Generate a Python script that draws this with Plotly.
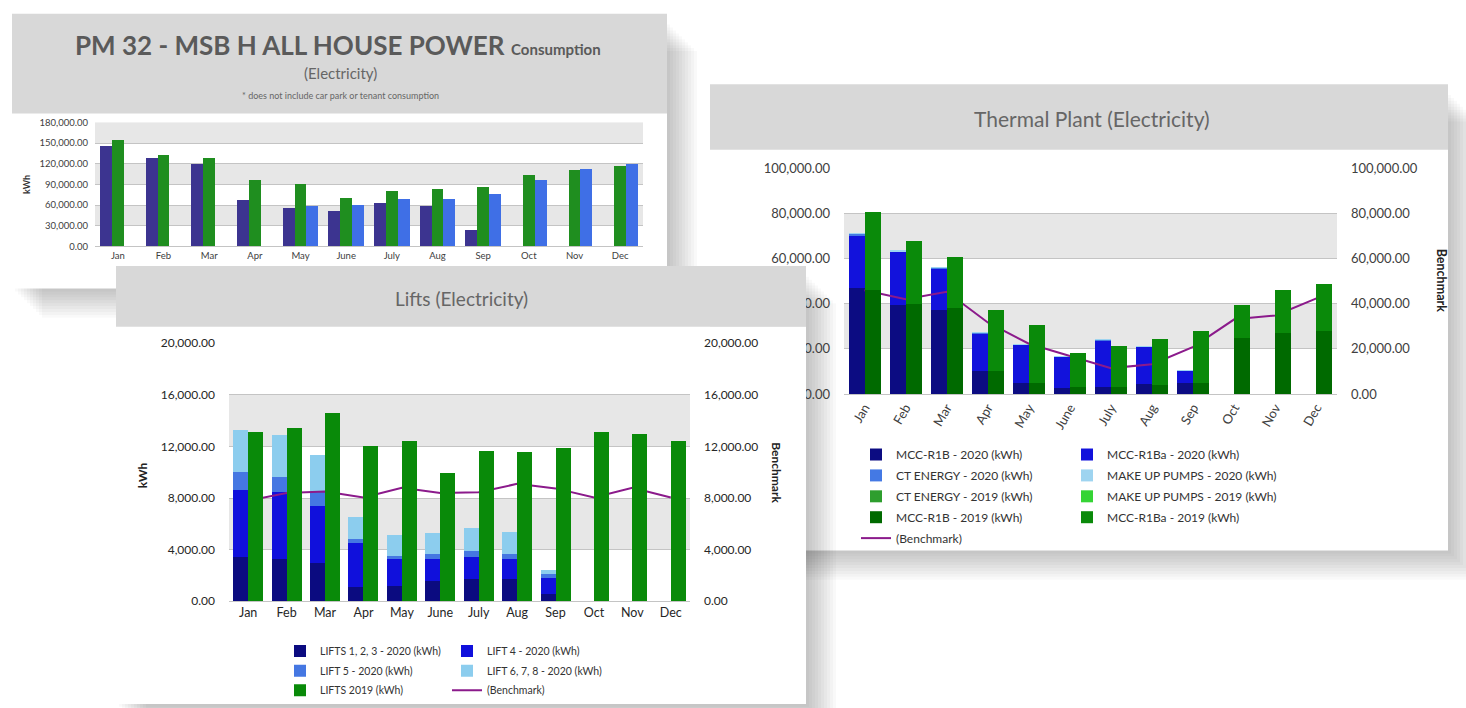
import plotly.graph_objects as go

W, H = 1466, 708

months = ["Jan", "Feb", "Mar", "Apr", "May", "June", "July", "Aug", "Sep", "Oct", "Nov", "Dec"]

# ---------- PM 32 - MSB H ALL HOUSE POWER Consumption (kWh) ----------
house_purple = [145000, 129000, 120000, 67000, 56500, 52000, 63000, 58500, 24000, None, None, None]
house_green = [155000, 132000, 128000, 97000, 90000, 70000, 80000, 84000, 86000, 104000, 111000, 116000]
house_blue = [None, None, None, None, 59000, 60000, 69000, 69000, 76500, 97000, 112000, 120000]

# ---------- Lifts (kWh) ----------
lifts_123_2020 = [3400, 3300, 3000, 1100, 1200, 1600, 1750, 1700, 600, None, None, None]
lift_4_2020 = [5200, 5150, 4400, 3400, 2070, 1670, 1700, 1570, 1200, None, None, None]
lift_5_2020 = [1400, 1150, 1100, 360, 260, 380, 450, 430, 300, None, None, None]
lifts_678_2020 = [3250, 3300, 2850, 1690, 1580, 1640, 1770, 1670, 350, None, None, None]
lifts_2019 = [13150, 13400, 14600, 12000, 12450, 9950, 11650, 11600, 11900, 13150, 12980, 12400]
lifts_bench = [7800, 8400, 8500, 8050, 8800, 8400, 8450, 9100, 8750, 8050, 8800, 8050]

# ---------- Thermal Plant (kWh) ----------
mcc_r1b_2020 = [46800, 39600, 37400, 10000, 5000, 2900, 3200, 4300, 5000, None, None, None]
mcc_r1ba_2020 = [23500, 23200, 18000, 16800, 16700, 13500, 20600, 16500, 5300, None, None, None]
ct_2020 = [600, 400, 350, 150, 150, 100, 150, 100, 100, None, None, None]
mup_2020 = [100, 100, 50, 50, 50, 50, 50, 50, 50, None, None, None]
ct_2019 = [0, 0, 0, 0, 0, 0, 0, 0, 0, 0, 0, 0]
mup_2019 = [0, 0, 0, 0, 0, 0, 0, 0, 0, 0, 0, 0]
mcc_r1b_2019 = [46000, 40000, 38000, 10000, 5000, 3000, 3000, 4000, 5000, 25000, 27000, 28000]
mcc_r1ba_2019 = [34600, 28000, 22500, 27400, 25500, 15300, 18300, 20300, 23100, 14400, 19000, 20600]
thermal_bench = [46000, 42000, 45300, 31700, 22300, 16800, 11500, 13200, 20900, 33100, 34800, 42400]

FONT = "Lato, 'Open Sans', sans-serif"
GRID = "#c4c4c4"
BAND = "#e7e7e7"
HEADER = "#d8d8d8"
TITLE_C = "#606060"


def fx(x):
    return x / W


def fy(y):
    return 1 - y / H


def dom_x(a, b):
    return [fx(a), fx(b)]


def dom_y(top, bottom):
    return [fy(bottom), fy(top)]


fig = go.Figure()

# invisible helper subplot (lets the Lifts panel cover the Thermal labels)
fig.add_trace(go.Scatter(x=[0.5], y=[0.5], xaxis="x", yaxis="y", mode="markers",
                         marker=dict(opacity=0, size=1), showlegend=False, hoverinfo="skip"))


def bar(y, name, color, xa, ya, offset, width, legend=None, rank=None, show=True):
    return go.Bar(x=months, y=y, name=name, xaxis=xa, yaxis=ya,
                  marker=dict(color=color, line=dict(width=0)),
                  offset=offset, width=width, legend=legend, legendrank=rank,
                  legendgroup=name, showlegend=show, hoverinfo="skip")


# ---------- Thermal traces ----------
BW = 0.39
fig.add_trace(bar(mcc_r1b_2020, "MCC-R1B - 2020 (kWh)", "#0c0c82", "x2", "y2", -BW, BW, "legend", 1))
fig.add_trace(bar(mcc_r1ba_2020, "MCC-R1Ba - 2020 (kWh)", "#1212dc", "x2", "y2", -BW, BW, "legend2", 1))
fig.add_trace(bar(ct_2020, "CT ENERGY - 2020 (kWh)", "#4479e4", "x2", "y2", -BW, BW, "legend", 2))
fig.add_trace(bar(mup_2020, "MAKE UP PUMPS - 2020 (kWh)", "#9ed4f0", "x2", "y2", -BW, BW, "legend2", 2))
fig.add_trace(bar(ct_2019, "CT ENERGY - 2019 (kWh)", "#2e9e2e", "x3", "y2", 0, BW, "legend", 3))
fig.add_trace(bar(mup_2019, "MAKE UP PUMPS - 2019 (kWh)", "#35d435", "x3", "y2", 0, BW, "legend2", 3))
fig.add_trace(bar(mcc_r1b_2019, "MCC-R1B - 2019 (kWh)", "#006a00", "x3", "y2", 0, BW, "legend", 4))
fig.add_trace(bar(mcc_r1ba_2019, "MCC-R1Ba - 2019 (kWh)", "#0a8a0a", "x3", "y2", 0, BW, "legend2", 4))
fig.add_trace(go.Scatter(x=months, y=thermal_bench, name="(Benchmark)", xaxis="x2", yaxis="y3",
                         mode="lines", line=dict(color="#8b1a8b", width=2),
                         legend="legend", legendrank=5, legendgroup="tb", hoverinfo="skip"))

# invisible helper subplot B
fig.add_trace(go.Scatter(x=[0.5], y=[0.5], xaxis="x4", yaxis="y4", mode="markers",
                         marker=dict(opacity=0, size=1), showlegend=False, hoverinfo="skip"))

# ---------- Lifts traces ----------
fig.add_trace(bar(lifts_123_2020, "LIFTS 1, 2, 3 - 2020 (kWh)", "#0b0b80", "x5", "y5", -BW, BW, "legend3", 1))
fig.add_trace(bar(lift_4_2020, "LIFT 4 - 2020 (kWh)", "#1010dc", "x5", "y5", -BW, BW, "legend4", 1))
fig.add_trace(bar(lift_5_2020, "LIFT 5 - 2020 (kWh)", "#4577e2", "x5", "y5", -BW, BW, "legend3", 2))
fig.add_trace(bar(lifts_678_2020, "LIFT 6, 7, 8 - 2020 (kWh)", "#8ccdee", "x5", "y5", -BW, BW, "legend4", 2))
fig.add_trace(bar(lifts_2019, "LIFTS 2019 (kWh)", "#098a09", "x6", "y5", 0, BW, "legend3", 3))
fig.add_trace(go.Scatter(x=months, y=lifts_bench, name="(Benchmark)", xaxis="x5", yaxis="y6",
                         mode="lines", line=dict(color="#8b1a8b", width=2),
                         legend="legend4", legendrank=3, legendgroup="lb", hoverinfo="skip"))

# ---------- House power traces ----------
HW = 0.26
fig.add_trace(bar(house_purple, "2020", "#3c3490", "x7", "y7", -0.39, HW, show=False))
fig.add_trace(bar(house_green, "2019", "#1f8e1f", "x8", "y7", -0.13, HW, show=False))
fig.add_trace(bar(house_blue, "2018", "#3f6fe6", "x9", "y7", 0.13, HW, show=False))

# ---------- axes ----------
cat = dict(type="category", categoryorder="array", categoryarray=months, range=[-0.5, 11.5],
           showgrid=False, zeroline=False, fixedrange=True)


def xa(domain, anchor, size, color="#404040", angle=0, **kw):
    d = dict(cat)
    d.update(domain=domain, anchor=anchor, showline=True, linecolor=GRID, linewidth=1,
             ticks="", tickangle=angle, tickfont=dict(family=FONT, size=size, color=color))
    d.update(kw)
    return d


def ov_x(main, anchor):
    d = dict(cat)
    d.update(overlaying=main, anchor=anchor, visible=False)
    return d


def ya(domain, anchor, rng, dtick, size, standoff, color="#404040", side="left", overlaying=None, grid=True):
    d = dict(range=rng, dtick=dtick, tick0=0, tickformat=",.2f", anchor=anchor, side=side,
             showgrid=grid, gridcolor=GRID, gridwidth=1, zeroline=False, showline=False,
             ticks="", ticklabelstandoff=standoff, fixedrange=True,
             tickfont=dict(family=FONT, size=size, color=color))
    if overlaying:
        d["overlaying"] = overlaying
    else:
        d["domain"] = domain
    return d


DUMMY_X = dom_x(710, 806)
DUMMY_Y = dom_y(326, 705)
hidden = dict(visible=False, range=[0, 1], fixedrange=True)

layout_axes = dict(
    xaxis=dict(hidden, domain=DUMMY_X, anchor="y"),
    yaxis=dict(hidden, domain=DUMMY_Y, anchor="x"),
    xaxis2=xa(dom_x(844, 1337), "y2", 13, angle=-60),
    yaxis2=ya(dom_y(164, 395), "x2", [0, 100000], 20000, 13, 13),
    yaxis3=ya(None, "x2", [0, 100000], 20000, 13, 13, side="right", overlaying="y2", grid=False),
    xaxis3=ov_x("x2", "y2"),
    xaxis4=dict(hidden, domain=DUMMY_X, anchor="y4"),
    yaxis4=dict(hidden, domain=DUMMY_Y, anchor="x4"),
    xaxis5=xa(dom_x(229, 690), "y5", 12.5, color="#262626"),
    yaxis5=ya(dom_y(343, 607), "x5", [0, 20000], 4000, 12, 13, color="#262626"),
    yaxis6=ya(None, "x5", [0, 20000], 4000, 12, 13, color="#262626", side="right", overlaying="y5", grid=False),
    xaxis6=ov_x("x5", "y5"),
    xaxis7=xa(dom_x(95, 643), "y7", 9.5),
    yaxis7=ya(dom_y(117, 244), "x7", [0, 180000], 30000, 9.5, 6),
    xaxis8=ov_x("x7", "y7"),
    xaxis9=ov_x("x7", "y7"),
)

# ---------- panel backgrounds ----------
shapes = []


def rect(x0, y0, x1, y1, color, layer="below"):
    shapes.append(dict(type="rect", xref="paper", yref="paper", x0=fx(x0), x1=fx(x1),
                       y0=fy(y1), y1=fy(y0), fillcolor=color, line=dict(width=0), layer=layer))


def panel(x0, y0, x1, y1, header_bottom):
    # soft drop shadow to the lower right
    for i in range(1, 11):
        d = 3 * i
        rect(x0 + d, y0 + d + 8, x1 + d, y1 + d, "rgba(0,0,0,0.022)")
    rect(x0, y0, x1, y1, "white")
    rect(x0, y0, x1, header_bottom, HEADER)


panel(12, 6, 667, 287, 108)       # house power
panel(710, 78, 1448, 555, 145)    # thermal plant
panel(116, 264, 806, 712, 326)    # lifts


def band(xref, yref, lo, hi):
    shapes.append(dict(type="rect", xref=xref + " domain", yref=yref, x0=0, x1=1, y0=lo, y1=hi,
                       fillcolor=BAND, line=dict(width=0), layer="below"))


for lo, hi in [(30000, 60000), (90000, 120000), (150000, 180000)]:
    band("x7", "y7", lo, hi)
for lo, hi in [(4000, 8000), (12000, 16000)]:
    band("x5", "y5", lo, hi)
for lo, hi in [(20000, 40000), (60000, 80000)]:
    band("x2", "y2", lo, hi)

# lifts header piece drawn over the thermal panel's axis labels
rect(710, 264, 806, 326, HEADER, layer="above")

# ---------- text ----------
ann = []


def text(x, y, s, size, color=TITLE_C, angle=0, bold=False):
    ann.append(dict(x=fx(x), y=fy(y), xref="paper", yref="paper", text=f"<b>{s}</b>" if bold else s,
                    showarrow=False, xanchor="center", yanchor="middle", textangle=angle,
                    font=dict(family=FONT, size=size, color=color)))


text(338, 38, "<b>PM 32 - MSB H ALL HOUSE POWER</b> <b><span style='font-size:15px'>Consumption</span></b>", 26, "#5a5a5a")
text(340, 67, "(Electricity)", 15, "#666666")
text(340, 90, "* does not include car park or tenant consumption", 9, "#666666")
text(27, 180, "kWh", 9, "#333333", angle=-90, bold=True)

text(461, 297, "Lifts (Electricity)", 19, "#666666")
text(142, 478, "kWh", 12, "#222222", angle=-90, bold=True)
text(777, 475, "Benchmark", 12, "#222222", angle=90, bold=True)

text(1092, 113, "Thermal Plant (Electricity)", 21, "#666666")
text(1441, 278, "Benchmark", 12.5, "#222222", angle=90, bold=True)


def legend_box(x, y, size, gap):
    return dict(x=fx(x), y=fy(y), xanchor="left", yanchor="top", orientation="v",
                bgcolor="rgba(0,0,0,0)", borderwidth=0, traceorder="grouped", tracegroupgap=gap,
                font=dict(family=FONT, size=size, color="#333333"), itemclick=False, itemdoubleclick=False)


fig.update_layout(
    width=W, height=H, autosize=False,
    margin=dict(l=0, r=0, t=0, b=0),
    paper_bgcolor="white", plot_bgcolor="white",
    barmode="stack", hovermode=False,
    font=dict(family=FONT),
    shapes=shapes, annotations=ann,
    legend=legend_box(856, 442, 12, 1.9),
    legend2=legend_box(1067, 442, 12, 1.9),
    legend3=legend_box(280, 643, 10.5, 0.7),
    legend4=legend_box(447, 643, 10.5, 0.7),
    **layout_axes,
)

fig.write_html("out.html", config={"displayModeBar": False},
               post_script="document.body.style.margin='0px';document.body.style.overflow='hidden';")
